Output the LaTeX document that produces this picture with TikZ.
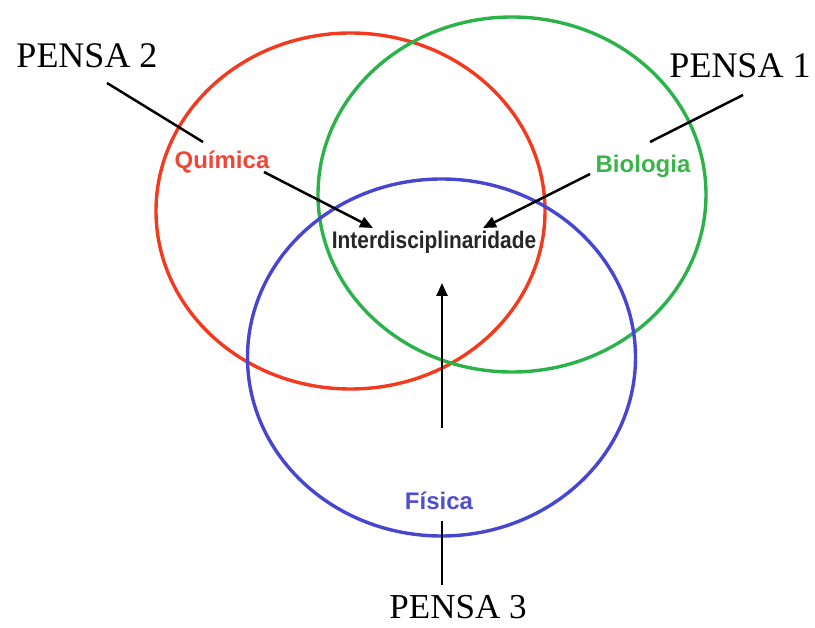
\documentclass[tikz,border=0pt]{standalone}
\usepackage{fontspec}
\setmainfont{Liberation Serif}
\setsansfont{Liberation Sans}
\usetikzlibrary{arrows.meta}
\definecolor{cred}{RGB}{244,58,30}
\definecolor{cgreen}{RGB}{44,178,74}
\definecolor{cblue}{RGB}{70,70,208}
\definecolor{tred}{RGB}{240,70,55}
\definecolor{tgreen}{RGB}{60,180,75}
\definecolor{tblue}{RGB}{80,80,205}
\begin{document}
\begin{tikzpicture}[x=1pt,y=-1pt,
  ring/.style={line width=3.4pt},
  pensa/.style={font=\fontsize{36}{40}\selectfont, inner sep=0pt, anchor=base},
  subj/.style={font=\sffamily\bfseries\fontsize{24}{28}\selectfont, inner sep=0pt, anchor=base},
  lead/.style={line width=2.5pt, black},
  leadarrow/.style={line width=2.5pt, black, -{Triangle[length=13pt,width=11pt]}}]
\useasboundingbox (0,0) rectangle (815,628);
% circles
\draw[ring, cred] (350.5,211) ellipse [x radius=194.5, y radius=178];
\draw[ring, cgreen] (512,194.5) ellipse [x radius=194, y radius=177.5];
\draw[ring, cblue] (441.5,357.5) ellipse [x radius=194, y radius=178.5];
% labels
\node[pensa] (pensa2) at (87,68) {PENSA 2};
\node[pensa] (pensa1) at (740,78) {PENSA 1};
\node[pensa, font=\fontsize{35}{40}\selectfont] (pensa3) at (458,619) {PENSA 3};
\node[subj, text=tred] (quim) at (222,169) {Química};
\node[subj, text=tgreen] (bio) at (643,173) {Biologia};
\node[subj, text=tblue] (fis) at (439,510) {Física};
\node[subj, text=black!85] (inter) at (434,249) {\scalebox{0.87}[1]{Interdisciplinaridade}};
% connector ends
\coordinate (p2a) at (107,83);
\coordinate (p2b) at (203,142);
\coordinate (p2c) at (264,172);
\coordinate (p2d) at (373,228);
\coordinate (p1a) at (743,95);
\coordinate (p1b) at (650,142);
\coordinate (p1c) at (590,174);
\coordinate (p1d) at (483,228);
\coordinate (p3a) at (442,585);
\coordinate (p3b) at (442,521);
\coordinate (p3c) at (442,428);
\coordinate (p3d) at (442,283);
% connectors
\draw[lead] (p2a) -- (p2b);
\draw[leadarrow] (p2c) -- (p2d);
\draw[lead] (p1a) -- (p1b);
\draw[leadarrow] (p1c) -- (p1d);
\draw[lead] (p3a) -- (p3b);
\draw[leadarrow] (p3c) -- (p3d);
\end{tikzpicture}
\end{document}
